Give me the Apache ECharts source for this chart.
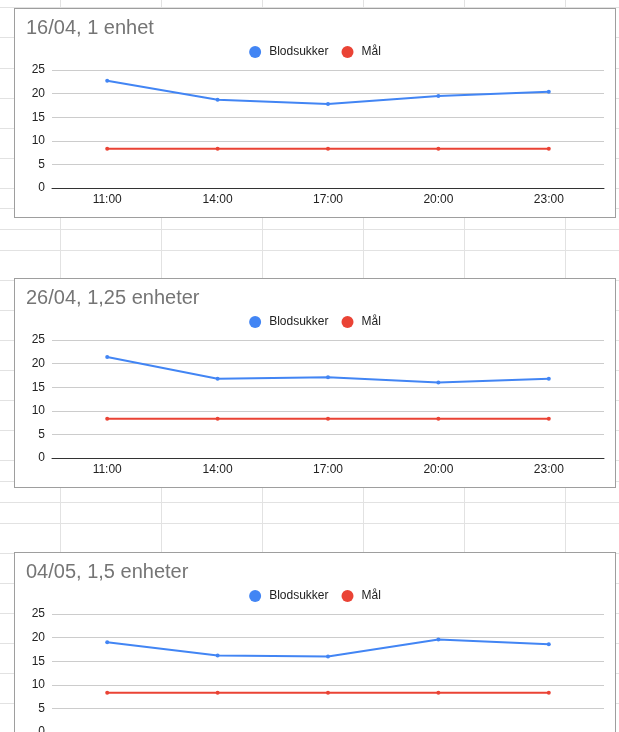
<!DOCTYPE html>
<html>
<head>
<meta charset="utf-8">
<script src="https://cdn.jsdelivr.net/npm/echarts@6/dist/echarts.min.js"></script>
<style>
  html, body { margin: 0; padding: 0; background: #fff; overflow: hidden; width: 619px; height: 732px; }
  #sheet { position: absolute; left: 0; top: 0; width: 619px; height: 732px; }
  .hl { position: absolute; left: 0; width: 619px; height: 1px; background: #e2e2e2; }
  .vl { position: absolute; top: 0; width: 1px; height: 732px; background: #e2e2e2; }
  .box { position: absolute; left: 14px; width: 602px; height: 210px; box-sizing: border-box; border: 1px solid #9e9e9e; background: #fff; }
  .box .c { width: 600px; height: 208px; }
</style>
</head>
<body>
<div id="sheet"></div>
<div class="box" style="top: 8px"><div class="c" id="c1"></div></div>
<div class="box" style="top: 278px"><div class="c" id="c2"></div></div>
<div class="box" style="top: 552px"><div class="c" id="c3"></div></div>
<script>
// data
const times = ["11:00", "14:00", "17:00", "20:00", "23:00"];
const titles = ["16/04, 1 enhet", "26/04, 1,25 enheter", "04/05, 1,5 enheter"];
const blod1 = [22.7, 18.7, 17.8, 19.5, 20.4];
const blod2 = [21.4, 16.8, 17.1, 16.0, 16.8];
const blod3 = [19.0, 16.2, 16.0, 19.6, 18.6];
const maal1 = [8.3, 8.3, 8.3, 8.3, 8.3];
const maal2 = [8.3, 8.3, 8.3, 8.3, 8.3];
const maal3 = [8.3, 8.3, 8.3, 8.3, 8.3];

// spreadsheet cell lines behind the charts
const rowLines = [7, 37, 68, 98, 128, 158, 188, 208, 229, 250, 280, 310, 340, 370, 400, 430, 460, 481, 502, 523, 553, 583, 613, 643, 673, 703];
const colLines = [60, 161, 262, 363, 464, 565];

const sheet = document.getElementById('sheet');
rowLines.forEach(y => {
  const d = document.createElement('div');
  d.className = 'hl';
  d.style.top = y + 'px';
  sheet.appendChild(d);
});
colLines.forEach(x => {
  const d = document.createElement('div');
  d.className = 'vl';
  d.style.left = x + 'px';
  sheet.appendChild(d);
});

const font = '"Liberation Sans", Arial, sans-serif';

function makeChart(id, title, blod, maal) {
  const chart = echarts.init(document.getElementById(id));
  chart.setOption({
    animation: false,
    title: {
      text: title,
      left: 11,
      top: 9,
      padding: 0,
      textStyle: { color: '#757575', fontSize: 20, fontWeight: 'normal', fontFamily: font }
    },
    legend: {
      left: 'center',
      top: 37,
      padding: 0,
      icon: 'circle',
      itemWidth: 18,
      itemHeight: 12,
      itemGap: 13,
      textStyle: { color: '#222', fontSize: 12, fontFamily: font },
      data: ['Blodsukker', 'Mål']
    },
    grid: { left: 37, right: 11, top: 61, bottom: 29 },
    xAxis: {
      type: 'category',
      data: times,
      axisLine: { lineStyle: { color: '#333', width: 1 } },
      axisTick: { show: false },
      axisLabel: { color: '#222', fontSize: 12, fontFamily: font, margin: 6 }
    },
    yAxis: {
      type: 'value',
      min: 0,
      max: 25,
      interval: 5,
      axisLine: { show: false },
      axisTick: { show: false },
      splitLine: { lineStyle: { color: '#ccc' } },
      axisLabel: { color: '#222', fontSize: 12, fontFamily: font, margin: 7 }
    },
    series: [
      {
        name: 'Blodsukker',
        type: 'line',
        data: blod,
        color: '#4285f4',
        symbol: 'circle',
        symbolSize: 4,
        lineStyle: { width: 2 }
      },
      {
        name: 'Mål',
        type: 'line',
        data: maal,
        color: '#ea4335',
        symbol: 'circle',
        symbolSize: 4,
        lineStyle: { width: 2 }
      }
    ]
  });
  return chart;
}

makeChart('c1', titles[0], blod1, maal1);
makeChart('c2', titles[1], blod2, maal2);
makeChart('c3', titles[2], blod3, maal3);
</script>
</body>
</html>
